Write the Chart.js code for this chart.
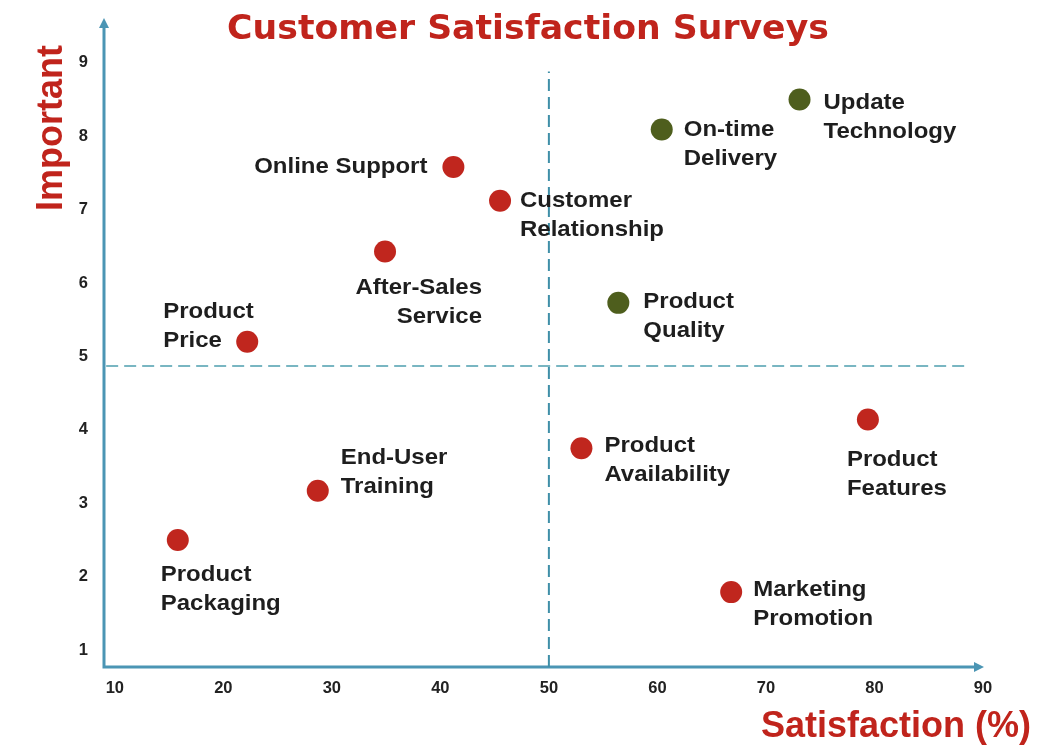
<!DOCTYPE html>
<html>
<head>
<meta charset="utf-8">
<title>Customer Satisfaction Surveys</title>
<script src="https://cdn.jsdelivr.net/npm/chart.js@4.4.1/dist/chart.umd.min.js"></script>
<style>
  html, body { margin: 0; padding: 0; background: #ffffff; }
  .chartBox { width: 1048px; height: 746px; position: relative; }
</style>
</head>
<body>
<div class="chartBox"><canvas id="myChart"></canvas></div>
<script>
// survey items (red = needs work, green = strengths)
const itemNames = ['Online Support', 'Customer Relationship', 'After-Sales Service', 'Product Price',
    'Product Features', 'Product Availability', 'End-User Training', 'Product Packaging',
    'Marketing Promotion', 'Update Technology', 'On-time Delivery', 'Product Quality'];
const satisfaction = [41.2, 45.5, 34.9, 22.2, 79.4, 53.0, 28.7, 15.8, 66.8, 73.1, 60.4, 56.4];
const importance = [7.58, 7.12, 6.43, 5.20, 4.14, 3.75, 3.17, 2.50, 1.79, 8.50, 8.09, 5.73];
const itemGroup = ['red', 'red', 'red', 'red', 'red', 'red', 'red', 'red', 'red', 'green', 'green', 'green'];

const xTicks = [10, 20, 30, 40, 50, 60, 70, 80, 90];
const yTicks = [1, 2, 3, 4, 5, 6, 7, 8, 9];
const splitX = 50;
const splitY = 4.87;

// label placement around each dot (pixels), kept apart from the data
const labelPos = {
    'Online Support':        { lines: ['Online Support'], dx: -26, dy: 0, align: 'right' },
    'Customer Relationship': { lines: ['Customer', 'Relationship'], dx: 20, dy: 0, align: 'left' },
    'After-Sales Service':   { lines: ['After-Sales', 'Service'], dx: 97, dy: 36, align: 'right' },
    'Product Price':         { lines: ['Product', 'Price'], dx: -84, dy: -30, align: 'left' },
    'Product Features':      { lines: ['Product', 'Features'], dx: -21, dy: 40, align: 'left' },
    'Product Availability':  { lines: ['Product', 'Availability'], dx: 23, dy: -2, align: 'left' },
    'End-User Training':     { lines: ['End-User', 'Training'], dx: 23, dy: -33, align: 'left' },
    'Product Packaging':     { lines: ['Product', 'Packaging'], dx: -17, dy: 35, align: 'left' },
    'Marketing Promotion':   { lines: ['Marketing', 'Promotion'], dx: 22, dy: -2, align: 'left' },
    'Update Technology':     { lines: ['Update', 'Technology'], dx: 24, dy: 3, align: 'left' },
    'On-time Delivery':      { lines: ['On-time', 'Delivery'], dx: 22, dy: 0, align: 'left' },
    'Product Quality':       { lines: ['Product', 'Quality'], dx: 25, dy: -1, align: 'left' }
};

const xMin = 9, xMax = 90.1, yMin = 0.77, yMax = 9.61;
const redColor = '#c0261e';
const greenColor = '#4e5e1d';
const axisColor = '#4b95b4';

function pointsFor(group) {
    var out = [];
    itemNames.forEach(function (name, i) {
        if (itemGroup[i] === group) {
            out.push({ x: satisfaction[i], y: importance[i], name: name });
        }
    });
    return out;
}

const pointLabels = {
    id: 'pointLabels',
    afterDatasetsDraw(chart) {
        const ctx = chart.ctx;
        ctx.save();
        ctx.font = 'bold 22px "Liberation Sans", Arial, sans-serif';
        ctx.fillStyle = '#1e1e1e';
        ctx.textBaseline = 'middle';
        chart.data.datasets.forEach(function (ds, di) {
            if (ds.type === 'line') return;
            const meta = chart.getDatasetMeta(di);
            meta.data.forEach(function (el, i) {
                const p = labelPos[ds.data[i].name];
                if (!p) return;
                ctx.textAlign = p.align;
                p.lines.forEach(function (line, li) {
                    ctx.save();
                    ctx.translate(el.x + p.dx, el.y + p.dy + li * 29);
                    ctx.scale(1.09, 1);   // the source lettering is a bit wide
                    ctx.fillText(line, 0, 0);
                    ctx.restore();
                });
            });
        });
        ctx.restore();
    }
};

const axesAndTitles = {
    id: 'axesAndTitles',
    beforeDatasetsDraw(chart) {
        const ctx = chart.ctx;
        const a = chart.chartArea;
        ctx.save();
        ctx.strokeStyle = axisColor;
        ctx.fillStyle = axisColor;
        ctx.lineWidth = 3;
        ctx.beginPath();
        ctx.moveTo(a.left, a.bottom);
        ctx.lineTo(a.left, a.top + 6);
        ctx.moveTo(a.left - 1.5, a.bottom);
        ctx.lineTo(a.right - 6, a.bottom);
        ctx.stroke();
        // arrow heads
        ctx.beginPath();
        ctx.moveTo(a.left, a.top);
        ctx.lineTo(a.left - 5, a.top + 10);
        ctx.lineTo(a.left + 5, a.top + 10);
        ctx.closePath();
        ctx.fill();
        ctx.beginPath();
        ctx.moveTo(a.right, a.bottom);
        ctx.lineTo(a.right - 10, a.bottom - 5);
        ctx.lineTo(a.right - 10, a.bottom + 5);
        ctx.closePath();
        ctx.fill();
        ctx.restore();
    },
    afterDraw(chart) {
        const ctx = chart.ctx;
        ctx.save();
        ctx.fillStyle = '#c0241c';
        ctx.textAlign = 'center';
        ctx.textBaseline = 'alphabetic';
        ctx.font = 'bold 34px "DejaVu Sans", sans-serif';
        ctx.save();
        ctx.translate(528, 39);
        ctx.scale(1.02, 1);
        ctx.fillText('Customer Satisfaction Surveys', 0, 0);
        ctx.restore();

        ctx.font = 'bold 36px "Liberation Sans", Arial, sans-serif';
        ctx.textAlign = 'right';
        ctx.fillText('Satisfaction (%)', 1031, 737);

        ctx.translate(62, 128);
        ctx.rotate(-Math.PI / 2);
        ctx.textAlign = 'center';
        ctx.fillText('Important', 0, 0);
        ctx.restore();
    }
};

const tickFont = { family: '"Liberation Sans", Arial, sans-serif', size: 16.5, weight: 'bold' };

new Chart(document.getElementById('myChart').getContext('2d'), {
    type: 'scatter',
    data: {
        datasets: [
            {
                type: 'line',
                data: [{ x: splitX, y: yMin }, { x: splitX, y: 8.88 }],
                borderColor: '#3f8fa8',
                borderWidth: 2,
                borderDash: [12, 6],
                pointRadius: 0,
                fill: false
            },
            {
                type: 'line',
                data: [{ x: 9.2, y: splitY }, { x: 88.3, y: splitY }],
                borderColor: '#79b6c2',
                borderWidth: 2,
                borderDash: [12, 6],
                pointRadius: 0,
                fill: false
            },
            {
                label: 'Improve',
                data: pointsFor('red'),
                backgroundColor: redColor,
                borderWidth: 0,
                pointRadius: 11,
                pointHoverRadius: 11
            },
            {
                label: 'Keep',
                data: pointsFor('green'),
                backgroundColor: greenColor,
                borderWidth: 0,
                pointRadius: 11,
                pointHoverRadius: 11
            }
        ]
    },
    options: {
        responsive: true,
        maintainAspectRatio: false,
        animation: false,
        layout: { padding: { top: 18, right: 64, left: 0, bottom: 0 } },
        plugins: {
            legend: { display: false },
            tooltip: { enabled: false },
            title: { display: false }
        },
        scales: {
            x: {
                type: 'linear',
                min: xMin,
                max: xMax,
                grid: { display: false, drawTicks: false },
                border: { display: false },
                afterBuildTicks: function (scale) { scale.ticks = xTicks.map(function (v) { return { value: v }; }); },
                afterFit: function (scale) { scale.height = 79; scale.paddingLeft = 0; scale.paddingRight = 0; },
                ticks: { color: '#222222', font: tickFont, padding: 12, maxRotation: 0, autoSkip: false }
            },
            y: {
                type: 'linear',
                min: yMin,
                max: yMax,
                grid: { display: false, drawTicks: false },
                border: { display: false },
                afterBuildTicks: function (scale) { scale.ticks = yTicks.map(function (v) { return { value: v }; }); },
                afterFit: function (scale) { scale.width = 104; scale.paddingTop = 0; scale.paddingBottom = 0; },
                ticks: { color: '#222222', font: tickFont, padding: 16, autoSkip: false }
            }
        }
    },
    plugins: [axesAndTitles, pointLabels]
});
</script>
</body>
</html>
